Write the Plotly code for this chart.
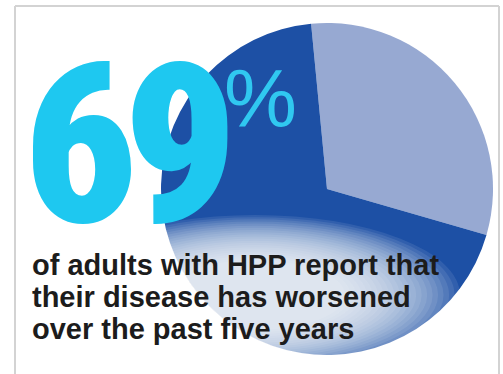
import plotly.graph_objects as go

# ---- data ----
labels = ["Not worsened", "Worsened over past five years"]
values = [31, 69]
slice_colors = ["#97a9d2", "#1d50a5"]
headline = "69"
headline_unit = "%"
caption_lines = [
    "of adults with HPP report that",
    "their disease has worsened",
    "over the past five years",
]

W, H = 503, 374


def px(x):
    return x / W


def py(y):
    return 1 - y / H


# pie geometry (pixels)
cx, cy, r = 327, 189, 166

fig = go.Figure()
fig.add_trace(go.Pie(
    labels=labels,
    values=values,
    sort=False,
    direction="clockwise",
    rotation=-5.5,
    marker=dict(colors=slice_colors, line=dict(width=0)),
    textinfo="none",
    hoverinfo="label+percent",
    showlegend=False,
    domain=dict(x=[px(cx - r), px(cx + r)], y=[py(cy + r), py(cy - r)]),
))

shapes = []
# soft white glow behind caption (stacked translucent ellipses)
gx, gy = 255, 295
n = 22
for i in range(n):
    t = i / (n - 1)
    ax = 205 - 115 * t
    ay = 80 - 45 * t
    shapes.append(dict(
        type="circle", xref="paper", yref="paper",
        x0=px(gx - ax), x1=px(gx + ax), y0=py(gy + ay), y1=py(gy - ay),
        fillcolor="white", opacity=0.09, line=dict(width=0), layer="above",
    ))

# frame lines
frame_col = "#d3d3d3"
shapes += [
    dict(type="line", xref="paper", yref="paper", x0=px(15), x1=px(15), y0=0, y1=py(6),
         line=dict(color=frame_col, width=2), layer="above"),
    dict(type="line", xref="paper", yref="paper", x0=px(15), x1=px(499), y0=py(6), y1=py(6),
         line=dict(color=frame_col, width=2), layer="above"),
    dict(type="line", xref="paper", yref="paper", x0=px(499), x1=px(499), y0=0, y1=py(6),
         line=dict(color=frame_col, width=2), layer="above"),
]

cyan = "#1ec8f0"

annotations = [
    dict(text=f'<span style="letter-spacing:-14px">{headline}</span>', x=px(126), y=py(146),
         xref="paper", yref="paper", xanchor="center", yanchor="middle", showarrow=False,
         font=dict(family="Roboto Condensed, Open Sans Condensed, sans-serif",
                   size=222, color=cyan, weight=900)),
    dict(text=headline_unit, x=px(260), y=py(99), xref="paper", yref="paper",
         xanchor="center", yanchor="middle", showarrow=False,
         font=dict(family="Liberation Sans, Arial, sans-serif", size=82, color="#30c8f0")),
]
baselines = [275, 307, 339]
for line, b in zip(caption_lines, baselines):
    annotations.append(dict(
        text=line, x=px(30), y=py(b - 10), xref="paper", yref="paper",
        xanchor="left", yanchor="middle", showarrow=False,
        font=dict(family="Liberation Sans, Arial, sans-serif", size=29, color="#1c1c1c",
                  weight="bold"),
    ))

fig.update_layout(
    width=W, height=H,
    margin=dict(l=0, r=0, t=0, b=0),
    paper_bgcolor="white", plot_bgcolor="white",
    shapes=shapes, annotations=annotations,
)

fig.write_html("out.html", config={"displayModeBar": False})
